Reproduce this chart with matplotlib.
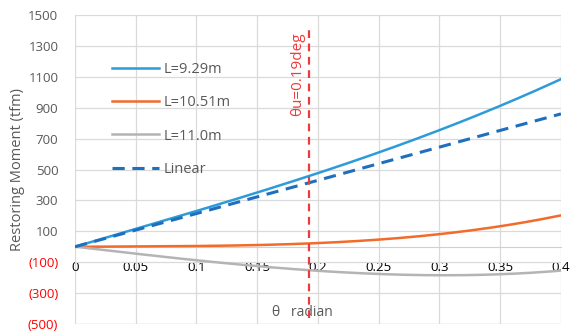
import matplotlib.pyplot as plt
import numpy as np

plt.rcParams["font.family"] = ["Open Sans", "DejaVu Sans"]

# data
theta = [0, 0.05, 0.1, 0.15, 0.2, 0.25, 0.3, 0.35, 0.4]
l_929 = [0, 115, 232, 350, 478, 610, 755, 912, 1085]
l_1051 = [0, 1, 5, 12, 24, 45, 82, 133, 203]
l_110 = [0, -44, -87, -126, -156, -177, -184, -177, -155]
linear = [0, 108, 215, 323, 430, 538, 645, 753, 860]
theta_u = 0.193

yticks = [-500, -300, -100, 100, 300, 500, 700, 900, 1100, 1300, 1500]
xticks = [0, 0.05, 0.1, 0.15, 0.2, 0.25, 0.3, 0.35, 0.4]
xticklabels = ['0', '0.05', '0.1', '0.15', '0.2', '0.25', '0.3', '0.35', '0.4']

gray_txt = '#595959'
fig = plt.figure(figsize=(5.73, 3.32), dpi=100)
ax = fig.add_axes([0.1309, 0.0241, 0.979 - 0.1309, 0.9548 - 0.0241])

# smooth curves through read points
xs = np.linspace(0, 0.4, 200)
def smooth(y):
    c = np.polyfit(theta, y, 3)
    return np.polyval(c, xs)

ax.plot(xs, smooth(l_929), color='#2E9BD9', lw=1.8, label='L=9.29m', zorder=4)
ax.plot(xs, smooth(l_1051), color='#F26B2A', lw=1.8, label='L=10.51m', zorder=4)
ax.plot(xs, smooth(l_110), color='#B4B4B4', lw=1.8, label='L=11.0m', zorder=4)
ax.plot(theta, linear, color='#1F6FBF', lw=2.2, ls=(0, (4, 2.5)), label='Linear', zorder=5)

ax.vlines(theta_u, -460, 1430, colors='#F03A3A', lw=1.6, linestyles=(0, (3.5, 2.5)), zorder=6)
ax.text(0.183, 1120, 'θu=0.19deg', rotation=90, color='#F03A3A', fontsize=11,
        ha='center', va='center')
ax.text(0.187, -425, 'θ   radian', color=gray_txt, fontsize=10, ha='center', va='center')

ax.set_xlim(0, 0.4)
ax.set_ylim(-500, 1500)
ax.set_yticks(yticks)
ax.set_yticklabels([f'({abs(v)})' if v < 0 else str(v) for v in yticks])
for t, v in zip(ax.get_yticklabels(), yticks):
    t.set_color('#FF0000' if v < 0 else gray_txt)
ax.set_xticks(xticks)
ax.set_xticklabels(xticklabels, color=gray_txt)
ax.tick_params(length=0, labelsize=9.5)
ax.tick_params(axis='y', pad=12)
ax.tick_params(axis='x', pad=10)

ax.spines['bottom'].set_position(('data', 0))
for s in ax.spines.values():
    s.set_color('#D0D0D0')
ax.spines['top'].set_visible(False)
ax.spines['right'].set_visible(False)
ax.spines['left'].set_visible(False)
ax.grid(color='#DADADA', lw=0.9, zorder=0)
ax.set_axisbelow(True)
ax.axhline(-500, color='#DADADA', lw=0.9, zorder=0)

ax.set_ylabel('Restoring Moment (tfm)', color=gray_txt, fontsize=10.5, labelpad=2)

leg = ax.legend(loc='upper left', bbox_to_anchor=(0.05, 0.89), frameon=False,
                fontsize=10.5, handlelength=3.2, labelspacing=1.25, handletextpad=0.3)
for t in leg.get_texts():
    t.set_color(gray_txt)

fig.savefig('out.png', dpi=100)
